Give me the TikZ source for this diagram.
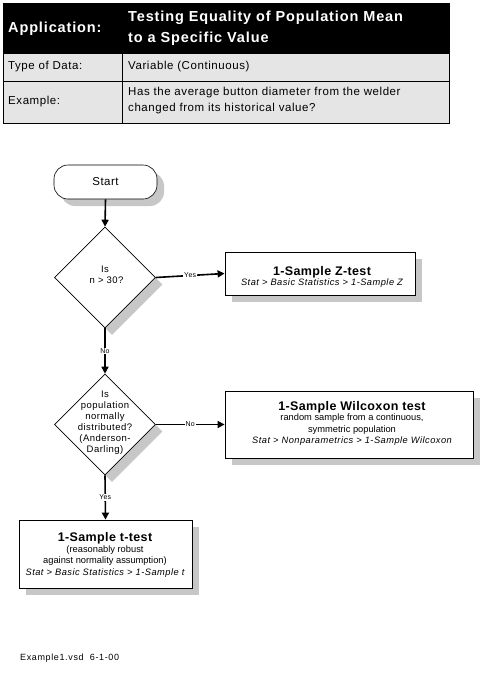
\documentclass[tikz,border=0pt]{standalone}
\usepackage{fontspec}
\setmainfont{Liberation Sans}
\usetikzlibrary{arrows.meta,shapes.geometric,shadows}
\newcommand{\ls}[1]{\addfontfeatures{LetterSpace=#1}}
\tikzset{
  shd/.style={drop shadow={shadow xshift=7pt,shadow yshift=-7pt,fill=black!22,opacity=1}},
  procbox/.style={draw=black,line width=0.8pt,fill=white,shd,rectangle,inner sep=0pt},
  decbox/.style={draw=black,line width=0.6pt,fill=white,shd,diamond,inner sep=0pt,minimum width=101pt,minimum height=101pt,aspect=1},
  termbox/.style={draw=black,line width=0.6pt,fill=white,shd,rectangle,rounded corners=14pt,inner sep=0pt,minimum width=103pt,minimum height=34pt},
  flow/.style={line width=1.6pt,-{Triangle[length=7pt,width=7pt]}},
  lbl/.style={fill=white,inner sep=1pt,font=\fontsize{7}{8}\selectfont\ls{4}},
  hdr/.style={font=\fontsize{14.5}{21}\selectfont\bfseries\ls{6},text=white,inner sep=0pt},
  cell/.style={font=\fontsize{11.5}{16}\selectfont\ls{5},inner sep=0pt},
  boxtxt/.style={align=center,inner sep=0pt,font=\fontsize{9.3}{11.5}\selectfont},
}
\newcommand{\bttl}[1]{{\fontsize{12.5}{14}\selectfont\bfseries\ls{3}#1}}
\newcommand{\menu}[1]{{\itshape\ls{5}#1}}
\begin{document}
\begin{tikzpicture}[x=1pt,y=-1pt]
\useasboundingbox (0,0) rectangle (484,675);
% header table
\fill[black] (3,3) rectangle (449,53);
\fill[black!10] (3,53) rectangle (449,123);
\draw[line width=0.7pt] (3,53) -- (449,53) (3,81) -- (449,81) (122,53) -- (122,123);
\draw[line width=0.9pt] (3,3) rectangle (449,123);
\node[hdr,anchor=west] (happ) at (8,29) {Application:};
\node[hdr,anchor=west,align=left] (htitle) at (128,28.5) {Testing Equality of Population Mean\\to a Specific Value};
\node[cell,anchor=west] (ctype) at (8,67) {Type of Data:};
\node[cell,anchor=west] (cvar) at (128,67) {Variable (Continuous)};
\node[cell,anchor=west] (cex) at (8,102) {Example:};
\node[cell,anchor=west,align=left] (cexq) at (128,101) {Has the average button diameter from the welder\\changed from its historical value?};
% flowchart
\node[termbox,font=\fontsize{11.5}{13}\selectfont\ls{4}] (start) at (105.5,182) {Start};
\node[decbox] (d1) at (105,277.5) {};
\node[font=\fontsize{9.5}{10.5}\selectfont\ls{5},align=center] (d1t) at (105,275) {Is\\ \ n > 30?};
\node[decbox] (d2) at (105,424.5) {};
\node[font=\fontsize{9.5}{11}\selectfont\ls{5},align=center] (d2t) at (105,423) {Is\\population\\normally\\distributed?\\(Anderson-\\Darling)};
\node[procbox,minimum width=190pt,minimum height=43pt] (z) at (320,273.5) {};
\node[boxtxt] (zt) at (322,277) {\bttl{1-Sample Z-test}\\[-1pt]\menu{Stat > Basic Statistics > 1-Sample Z}};
\node[procbox,minimum width=248pt,minimum height=67pt] (w) at (349,424.5) {};
\node[boxtxt] (wt) at (352,423.5) {\bttl{1-Sample Wilcoxon test}\\[-1pt]random sample from a continuous,\\symmetric population\\\menu{Stat > Nonparametrics > 1-Sample Wilcoxon}};
\node[procbox,minimum width=173pt,minimum height=68pt] (t) at (105.5,554) {};
\node[boxtxt] (tt) at (105,555) {\bttl{1-Sample t-test}\\[-1pt](reasonably robust\\against normality assumption)\\\menu{Stat > Basic Statistics > 1-Sample t}};
% connectors
\draw[flow] (start.south) -- (d1.north);
\draw[flow] (d1.east) -- node[lbl] (l1) {Yes} (z.west);
\draw[flow] (d1.south) -- node[lbl] (l2) {No} (d2.north);
\draw[flow] (d2.east) -- node[lbl] (l3) {No} (w.west |- d2.east);
\draw[flow] (d2.south) -- node[lbl] (l4) {Yes} (t.north);
% footer
\node[anchor=west,inner sep=0pt,font=\fontsize{9}{10}\selectfont\ls{7}] (foot) at (20,658) {Example1.vsd\ \ 6-1-00};
\end{tikzpicture}
\end{document}
